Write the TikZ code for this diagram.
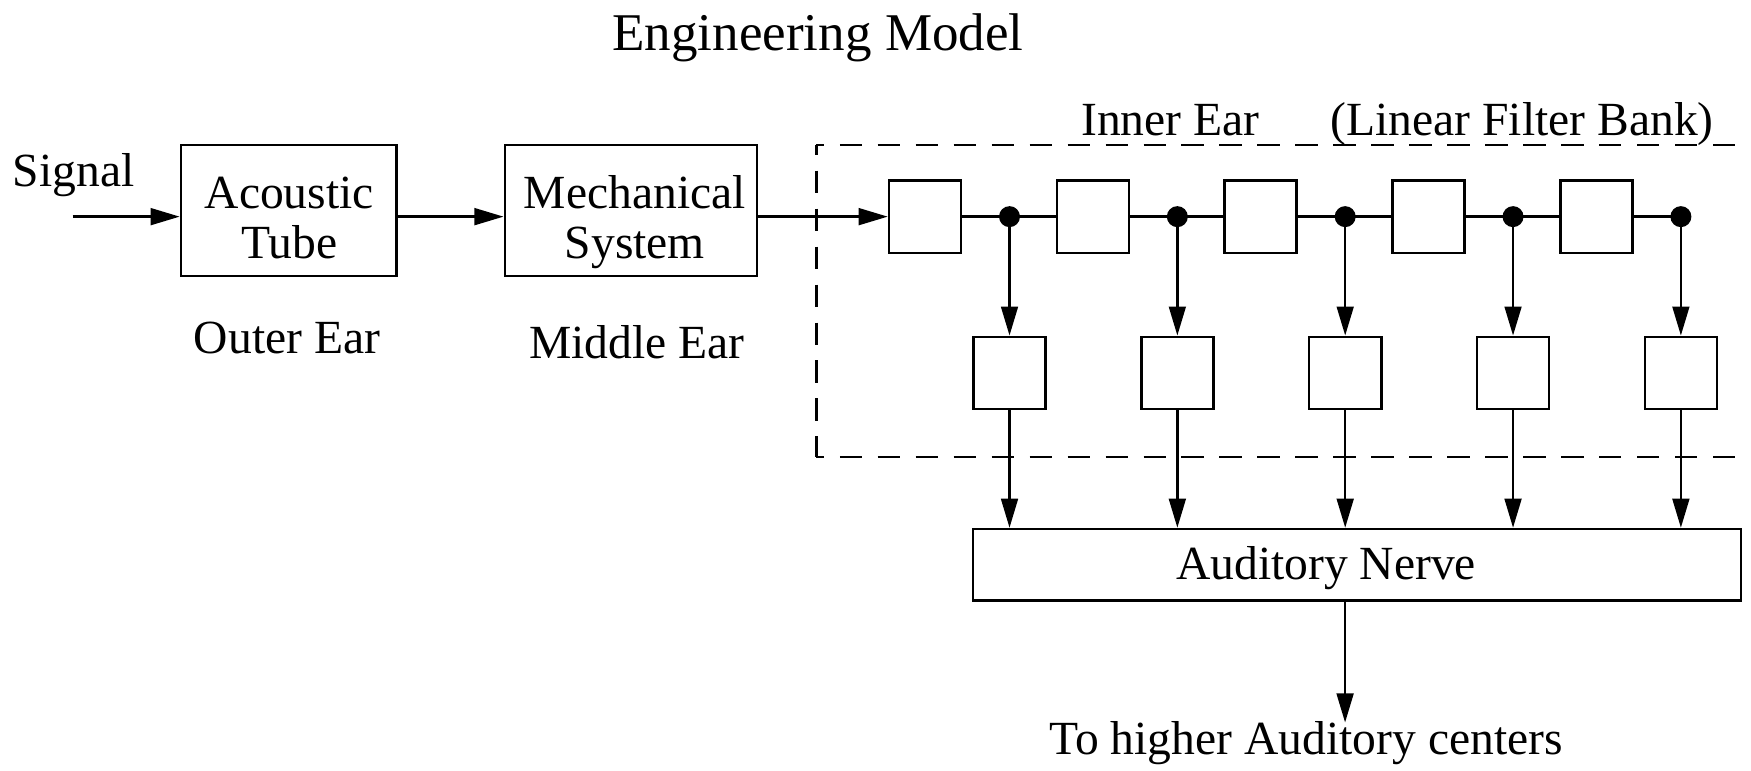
\documentclass[tikz,border=0pt]{standalone}
\usepackage{fontspec}
\setmainfont{Liberation Serif}
\usetikzlibrary{arrows.meta}
\tikzset{
  lw/.style={line width=1.1pt},
  blk/.style={draw, lw, inner sep=0pt},
  lbl/.style={inner sep=0pt, anchor=base, font=\fontsize{21.3pt}{22.35pt}\selectfont},
  ttl/.style={inner sep=0pt, anchor=base, font=\fontsize{23.75pt}{25pt}\selectfont},
  arr/.style={lw, -{Triangle[length=13pt,width=7.5pt]}},
  conn/.style={lw},
  dotnode/.style={circle, fill, inner sep=0pt, minimum size=9.4pt},
  dashbox/.style={lw, dash pattern=on 10pt off 7pt, dash phase=5.5pt},
  fbox/.style={blk, minimum width=32.25pt, minimum height=32.5pt},
  gbox/.style={blk, minimum width=32.3pt, minimum height=32.4pt}
}
\begin{document}
\begin{tikzpicture}[x=0.5pt, y=-0.5pt]
\clip (0,0) rectangle (1568,690);

% title
\node[ttl] (title) at (732.5,44.8) {Engineering Model};

% dashed inner-ear box
\coordinate (dtl) at (731,129.8);
\coordinate (dtr) at (1620,129.8);
\coordinate (dbl) at (731,409);
\coordinate (dbr) at (1620,409);
\draw[dashbox] (dtl) -- (dbl);
\draw[dashbox, dash phase=6.5pt] (dtl) -- (dtr);
\draw[dashbox, dash phase=6.5pt] (dbl) -- (dbr);
\node[lbl] (inner) at (1048,121) {Inner Ear};
\node[lbl] (lfb) at (1363,121) {(Linear Filter Bank)};

% outer and middle ear
\node[lbl] (signal) at (66,167) {Signal};
\coordinate (sigin) at (65,194);
\node[blk, minimum width=96.5pt, minimum height=58.5pt] (acoustic) at (258.5,188.5) {};
\node[lbl] (acousticA) at (259,186.5) {Acoustic};
\node[lbl] (acousticB) at (259,231.3) {Tube};
\node[blk, minimum width=113pt, minimum height=58.5pt] (mech) at (565,188.5) {};
\node[lbl] (mechA) at (568.5,186.5) {Mechanical};
\node[lbl] (mechB) at (568.5,231.3) {System};
\node[lbl] (outer) at (257,316.4) {Outer Ear};
\node[lbl] (middle) at (570.5,320.9) {Middle Ear};

\draw[arr] (sigin) -- (sigin -| acoustic.west);
\draw[arr] (sigin -| acoustic.east) -- (sigin -| mech.west);

% filter bank
\foreach \i in {1,...,5} {
  \node[fbox] (f\i) at ({828.3+150.3*(\i-1)},194) {};
  \node[dotnode] (d\i) at ({904+150.3*(\i-1)},194) {};
  \node[gbox] (g\i) at ({904+150.3*(\i-1)},334) {};
}
\draw[arr] (sigin -| mech.east) -- (f1.west);
\foreach \i/\j in {1/2,2/3,3/4,4/5} {
  \draw[conn] (f\i.east) -- (d\i.center) -- (f\j.west);
}
\draw[conn] (f5.east) -- (d5.center);

% auditory nerve
\node[blk, minimum width=343.85pt, minimum height=32.1pt] (an) at (1215.2,505.8) {};
\node[lbl] (antxt) at (1187.5,518.8) {Auditory Nerve};

\foreach \i in {1,...,5} {
  \draw[arr] (d\i.center) -- (g\i.north);
  \draw[arr] (g\i.south) -- (g\i.south |- an.north);
}

\coordinate (outend) at (1204.5,647);
\draw[arr] (outend |- an.south) -- (outend);
\node[lbl] (higher) at (1169.6,676) {To higher Auditory centers};
\end{tikzpicture}
\end{document}
